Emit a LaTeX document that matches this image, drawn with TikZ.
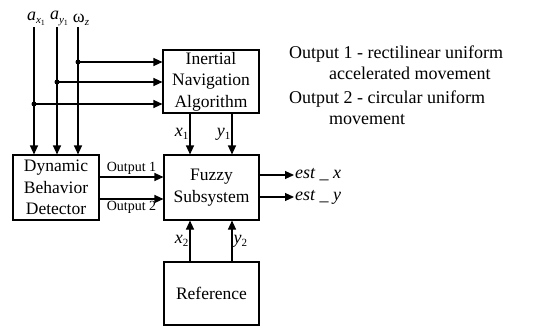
\documentclass[tikz,border=0pt]{standalone}
\usepackage{fontspec}
\setmainfont{Liberation Serif}
\usetikzlibrary{arrows.meta}
\tikzset{
  box/.style={draw, line width=1.1pt, align=center, font=\fontsize{17.5}{21.5}\selectfont, inner sep=0pt},
  arr/.style={line width=1.1pt, -{Triangle[length=9pt,width=8pt]}},
  ln/.style={line width=1.1pt},
  dotc/.style={circle, fill, inner sep=0pt, minimum size=5pt},
  lbl/.style={font=\fontsize{18}{20}\selectfont, inner sep=1pt},
  small/.style={font=\fontsize{14}{17}\selectfont, inner sep=1pt},
  note/.style={font=\fontsize{18}{21}\selectfont, anchor=base west, inner sep=0pt}
}
\newcommand{\subl}[2]{\textit{#1}\raisebox{-3.5pt}{\fontsize{11}{12}\selectfont #2}}
\begin{document}
\begin{tikzpicture}[x=1pt,y=-1pt]
\useasboundingbox (0,0) rectangle (533,327);
% boxes
\node[box, minimum width=96pt, minimum height=63pt] (ina) at (211,81.5) {Inertial\\Navigation\\Algorithm};
\node[box, minimum width=86pt, minimum height=65pt] (dbd) at (56,187.5) {Dynamic\\Behavior\\Detector};
\node[box, minimum width=95pt, minimum height=65pt] (fz) at (211.5,187.5) {Fuzzy\\Subsystem};
\node[box, minimum width=95pt, minimum height=63pt] (ref) at (211.5,293.5) {Reference};
% inputs
\coordinate (ax) at (34,27);
\coordinate (ay) at (57,27);
\coordinate (wz) at (78,27);
\node[lbl, anchor=south] (lax) at (36,27) {\textit{a}\raisebox{-3.5pt}{\fontsize{11}{12}\selectfont\textit{x}\raisebox{-2pt}{\fontsize{8}{9}\selectfont 1}}};
\node[lbl, anchor=south] (lay) at (59,27) {\textit{a}\raisebox{-3.5pt}{\fontsize{11}{12}\selectfont\textit{y}\raisebox{-2pt}{\fontsize{8}{9}\selectfont 1}}};
\node[lbl, anchor=south] (lwz) at (81,27) {ω\raisebox{-3pt}{\fontsize{11}{12}\selectfont\textit{z}}};
\draw[arr] (ax) -- (ax |- dbd.north);
\draw[arr] (ay) -- (ay |- dbd.north);
\draw[arr] (wz) -- (wz |- dbd.north);
\node[dotc] (dwz) at (78,62) {};
\node[dotc] (day) at (57,82) {};
\node[dotc] (dax) at (34,104) {};
\draw[arr] (dwz.center) -- (dwz.center -| ina.west);
\draw[arr] (day.center) -- (day.center -| ina.west);
\draw[arr] (dax.center) -- (dax.center -| ina.west);
% INA to fuzzy
\coordinate (c1) at (190,0);
\coordinate (c2) at (232,0);
\draw[arr] (c1 |- ina.south) -- (c1 |- fz.north) node[lbl, midway, left] {\subl{x}{1}};
\draw[arr] (c2 |- ina.south) -- (c2 |- fz.north) node[lbl, midway, left] {\subl{y}{1}};
% reference to fuzzy
\draw[arr] (c1 |- ref.north) -- (c1 |- fz.south) node[lbl, midway, left] {\subl{x}{2}};
\draw[arr] (c2 |- ref.north) -- (c2 |- fz.south) node[lbl, midway, right] {\subl{y}{2}};
% DBD to fuzzy
\coordinate (o1) at (0,177);
\coordinate (o2) at (0,199);
\draw[arr] (o1 -| dbd.east) -- (o1 -| fz.west) node[small, midway, above, yshift=1pt] {Output 1};
\draw[arr] (o2 -| dbd.east) -- (o2 -| fz.west) node[small, midway, below, yshift=-1pt] {Output 2};
% outputs
\coordinate (ex) at (294,175);
\coordinate (ey) at (294,197);
\draw[arr] (ex -| fz.east) -- (ex) node[lbl, right, inner sep=0.5pt] {\textit{est \_ x}};
\draw[arr] (ey -| fz.east) -- (ey) node[lbl, right, inner sep=0.5pt] {\textit{est \_ y}};
% notes
\node[note] (n1) at (289,58) {Output 1 - rectilinear uniform};
\node[note] (n1b) at (329,79) {accelerated movement};
\node[note] (n2) at (289,103) {Output 2 - circular uniform};
\node[note] (n2b) at (329,124) {movement};
\end{tikzpicture}
\end{document}
